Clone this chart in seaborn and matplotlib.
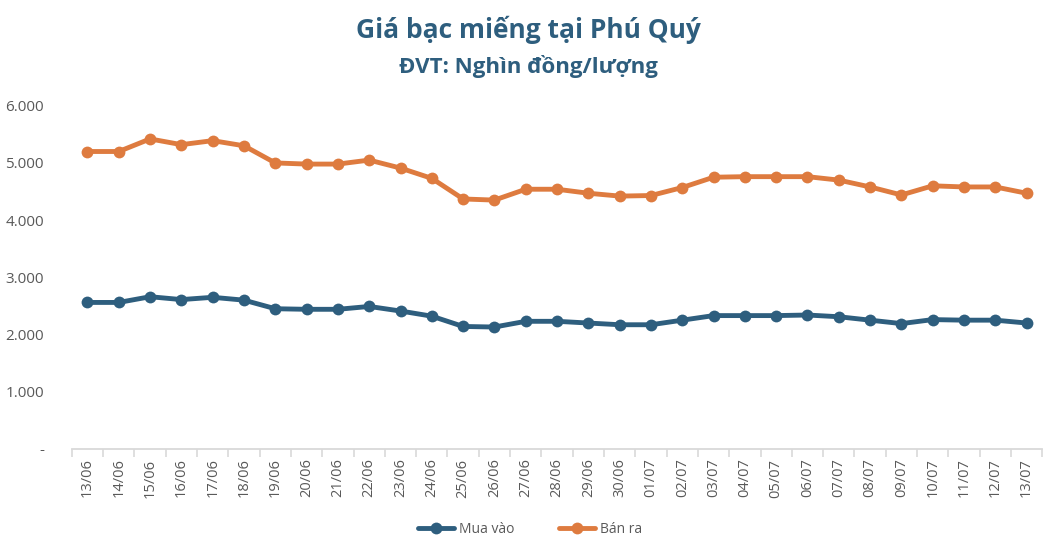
import pandas as pd
import seaborn as sns
from matplotlib import pyplot as plt
from matplotlib.ticker import FuncFormatter, FixedLocator

ngay = ['13/06', '14/06', '15/06', '16/06', '17/06', '18/06', '19/06', '20/06',
        '21/06', '22/06', '23/06', '24/06', '25/06', '26/06', '27/06', '28/06',
        '29/06', '30/06', '01/07', '02/07', '03/07', '04/07', '05/07', '06/07',
        '07/07', '08/07', '09/07', '10/07', '11/07', '12/07', '13/07']

mua_vao = [2560, 2560, 2660, 2610, 2650, 2600, 2450, 2440, 2440, 2490, 2410, 2320,
           2140, 2130, 2230, 2230, 2200, 2170, 2170, 2250, 2330, 2330, 2330, 2340,
           2310, 2250, 2190, 2260, 2250, 2250, 2200]

ban_ra = [5200, 5200, 5420, 5320, 5390, 5300, 5000, 4980, 4980, 5050, 4910, 4730,
          4370, 4350, 4540, 4540, 4470, 4420, 4430, 4570, 4750, 4760, 4760, 4760,
          4700, 4580, 4440, 4600, 4580, 4580, 4470]

XANH = '#2E5E7E'
CAM = '#DE7B3F'

df = pd.DataFrame({
    'ngay': ngay * 2,
    'gia': mua_vao + ban_ra,
    'loai': ['Mua vào'] * len(ngay) + ['Bán ra'] * len(ngay),
})

sns.set_style('white')
plt.rcParams['font.family'] = ['Open Sans', 'DejaVu Sans']

fig = plt.figure(figsize=(10.56, 5.48), dpi=100)
ax = fig.add_axes([0.068, 0.181, 0.919, 0.626])

sns.lineplot(data=df, x='ngay', y='gia', hue='loai', palette=[XANH, CAM],
             marker='o', markersize=8.5, markeredgewidth=0, linewidth=3.5,
             sort=False, ax=ax)

ax.set_ylim(0, 6000)
ax.set_xlim(-0.5, len(ngay) - 0.5)
ax.set_yticks(range(0, 6001, 1000))
ax.yaxis.set_major_formatter(FuncFormatter(
    lambda v, p: '-' if v == 0 else f'{int(v):,}'.replace(',', '.')))

ax.set_xticks(range(len(ngay)))
ax.set_xticklabels(ngay, rotation=90, fontsize=10.5, color='#595959')
ax.xaxis.set_minor_locator(FixedLocator([i - 0.5 for i in range(len(ngay) + 1)]))
ax.tick_params(axis='x', which='major', length=0, pad=7)
ax.tick_params(axis='x', which='minor', length=6, width=1.2, color='#D9D9D9', bottom=True)
ax.tick_params(axis='y', length=0, labelsize=11, labelcolor='#595959', pad=20)

for s in ['top', 'right', 'left']:
    ax.spines[s].set_visible(False)
ax.spines['bottom'].set_color('#D9D9D9')
ax.spines['bottom'].set_linewidth(1.3)

ax.set_xlabel('')
ax.set_ylabel('')

fig.text(0.5, 0.945, 'Giá bạc miếng tại Phú Quý', ha='center', va='center',
         fontsize=19, fontweight='bold', color=XANH)
fig.text(0.5, 0.878, 'ĐVT: Nghìn đồng/lượng', ha='center', va='center',
         fontsize=16, fontweight='bold', color=XANH)

leg = ax.legend(loc='center', bbox_to_anchor=(0.472, -0.236), bbox_transform=ax.transAxes,
                ncol=2, frameon=False, fontsize=10, handlelength=2.6,
                handletextpad=0.35, columnspacing=3.2)
for t in leg.get_texts():
    t.set_color('#595959')

plt.savefig('out.png', dpi=100)
